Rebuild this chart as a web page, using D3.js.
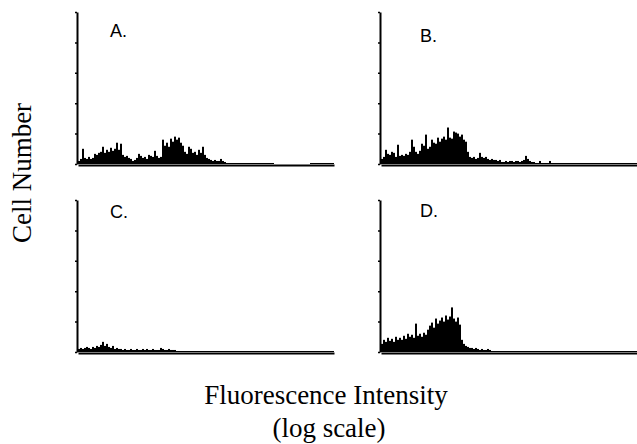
<!DOCTYPE html>
<html>
<head>
<meta charset="utf-8">
<script src="https://cdn.jsdelivr.net/npm/d3@7"></script>
<style>
  body { margin: 0; background: #fff; }
  svg { display: block; }
</style>
</head>
<body>
<svg id="chart" width="637" height="444"></svg>
<script>
// channel counts, one value per 2 channels (128 bins across the log axis)
var panelLabels = ['A.', 'B.', 'C.', 'D.'];
var yTicks = [0, 30, 60, 90, 120, 150];

var countsA = [3,5,15,6,5,7,5,6,10,9,11,12,17,11,14,12,16,13,15,21,14,20,9,7,8,6,5,3,4,6,
  10,8,6,7,5,9,8,7,13,8,6,7,24,18,21,17,25,22,27,24,26,21,18,12,10,17,15,11,12,9,
  14,11,17,9,6,5,4,3,4,3,3,5,3,2,1,1,1,1,1,1,1,1,1,1,1,1,1,1,1,1,
  1,1,1,1,1,1,1,1,0,0,0,0,0,0,0,0,0,0,0,0,0,0,0,0,0,0,1,1,1,1,
  1,1,1,1,1,1,1,1];
var countsB = [5,7,14,10,9,12,11,7,19,8,9,8,10,9,12,24,17,12,10,13,20,18,29,15,17,24,21,20,26,22,
  25,27,24,36,26,25,32,31,30,27,29,24,22,12,7,6,7,5,6,11,7,6,7,5,4,5,4,4,3,4,
  2,2,3,2,3,3,2,3,3,2,3,4,8,5,3,2,2,1,1,3,1,1,1,1,3,1,1,1,1,1,
  1,1,1,1,1,1,1,1,1,1,1,1,1,1,1,1,1,1,1,1,1,1,1,1,1,1,1,1,1,1,
  1,1,1,1,1,1,1,1];
var countsC = [3,4,3,4,5,4,3,5,4,6,5,7,10,6,8,5,4,6,3,4,3,3,2,3,2,2,3,2,2,3,
  2,2,3,2,3,2,2,3,2,2,2,4,3,2,2,3,2,2,2,1,1,1,1,1,1,1,1,1,1,1,
  1,1,1,1,1,1,1,1,1,1,1,1,1,1,1,1,1,1,1,1,1,1,1,1,1,1,1,1,1,1,
  1,1,1,1,1,1,1,1,1,1,1,1,1,1,1,1,1,1,1,1,1,1,1,1,1,1,1,1,1,1,
  1,1,1,1,1,1,1,1];
var countsD = [8,12,10,14,11,13,10,15,12,14,12,16,13,18,15,17,14,28,16,18,15,19,17,22,26,29,24,33,28,31,
  34,30,36,32,35,44,33,30,34,27,12,8,6,5,4,4,3,4,3,2,3,2,2,3,2,1,1,1,1,1,
  1,1,1,1,1,1,1,1,1,1,1,1,1,1,1,1,1,1,1,1,1,1,1,1,1,1,1,1,1,1,
  1,1,1,1,1,1,1,1,1,1,1,1,1,1,1,1,1,1,1,1,1,1,1,1,1,1,1,1,1,1,
  1,1,1,1,1,1,1,1];

var panels = [
  {label: panelLabels[0], counts: countsA, x0: 78, top: 12, base: 164, lx: 110, ly: 37},
  {label: panelLabels[1], counts: countsB, x0: 381, top: 12, base: 164, lx: 420, ly: 42},
  {label: panelLabels[2], counts: countsC, x0: 78, top: 200, base: 352, lx: 110, ly: 218},
  {label: panelLabels[3], counts: countsD, x0: 381, top: 200, base: 352, lx: 420, ly: 217}
];

var svg = d3.select('#chart');

panels.forEach(function(p) {
  var x = d3.scaleLinear().domain([0, 128]).range([p.x0, p.x0 + 256]);
  var y = d3.scaleLinear().domain([0, 150]).range([p.base, p.top]);
  var g = svg.append('g');

  g.selectAll('.bin')
   .data(p.counts)
   .enter().append('rect')
   .attr('class', 'bin')
   .attr('x', function(d, i){ return x(i); })
   .attr('width', function(d, i){ return x(i + 1) - x(i); })
   .attr('y', function(d){ return y(d); })
   .attr('height', function(d){ return p.base - y(d); })
   .attr('fill', '#000');

  var yAxis = g.append('g')
   .attr('transform', 'translate(' + (p.x0 - 1) + ',0)')
   .call(d3.axisLeft(y).tickValues(yTicks).tickSize(2).tickSizeOuter(0).tickFormat(''));
  yAxis.select('.domain').attr('stroke', '#000').attr('stroke-width', 2);
  yAxis.selectAll('.tick line').attr('stroke', '#000').attr('stroke-width', 1.5);

  var xAxis = g.append('g')
   .attr('transform', 'translate(0,' + (p.base + 1) + ')')
   .call(d3.axisBottom(x).tickValues([]).tickSizeOuter(0));
  xAxis.select('.domain').attr('stroke', '#000').attr('stroke-width', 2);

  g.append('text')
   .attr('x', p.lx)
   .attr('y', p.ly)
   .attr('font-family', 'Liberation Sans, Arial, sans-serif')
   .attr('font-size', 18)
   .text(p.label);
});

svg.append('text')
   .attr('transform', 'translate(31,173) rotate(-90)')
   .attr('text-anchor', 'middle')
   .attr('font-family', 'Liberation Serif, Times New Roman, serif')
   .attr('font-size', 27)
   .text('Cell Number');

svg.append('text')
   .attr('x', 326)
   .attr('y', 404)
   .attr('text-anchor', 'middle')
   .attr('font-family', 'Liberation Serif, Times New Roman, serif')
   .attr('font-size', 27)
   .text('Fluorescence Intensity');

svg.append('text')
   .attr('x', 329)
   .attr('y', 437)
   .attr('text-anchor', 'middle')
   .attr('font-family', 'Liberation Serif, Times New Roman, serif')
   .attr('font-size', 27)
   .text('(log scale)');
</script>
</body>
</html>
